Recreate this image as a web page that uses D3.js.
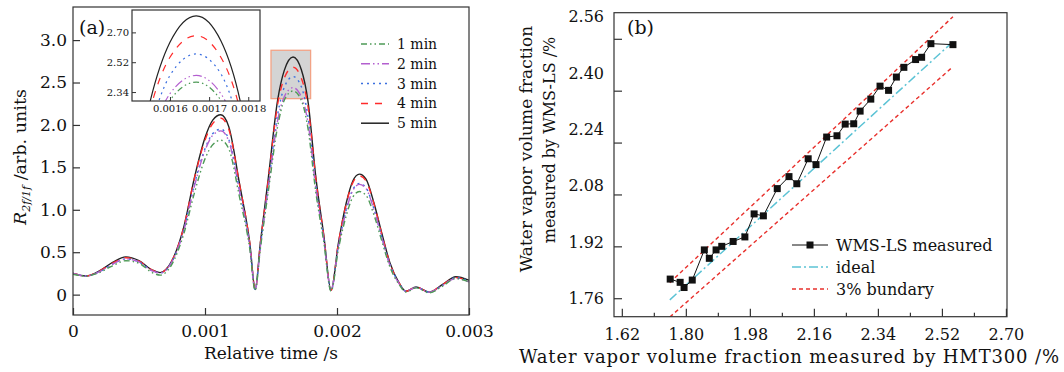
<!DOCTYPE html>
<html>
<head>
<meta charset="utf-8">
<script src="https://cdn.jsdelivr.net/npm/d3@7"></script>
<style>
body { margin: 0; background: #fff; }
text { font-family: "DejaVu Serif", serif; fill: #111; }
</style>
</head>
<body>
<div class="chart"></div>
<script>
// ---- panel (a) data: R2f/1f vs relative time ----
const timeS = [0, 0.0001, 0.0002, 0.0003, 0.0004, 0.0005, 0.0006, 0.00066, 0.00075, 0.00084,
    0.00092, 0.001, 0.00106, 0.00112, 0.00118, 0.00126, 0.00134, 0.00138, 0.00142, 0.00148,
    0.00155, 0.0016, 0.001667, 0.00173, 0.00178, 0.00184, 0.0019, 0.001955, 0.00201, 0.00207,
    0.00212, 0.00217, 0.00222, 0.00228, 0.00234, 0.0024, 0.00247, 0.002523, 0.0026, 0.0027,
    0.0028, 0.0029, 0.003]

const min1 = [0.24, 0.22, 0.26, 0.34, 0.40, 0.37, 0.26, 0.23, 0.36, 0.72, 1.20, 1.60, 1.77, 1.82, 1.72,
    1.16, 0.53, 0.05, 0.55, 1.22, 1.98, 2.29, 2.40, 2.29, 1.96, 1.20, 0.62, 0.04, 0.53, 0.93, 1.15,
    1.215, 1.17, 0.94, 0.63, 0.33, 0.12, 0.03, 0.08, 0.02, 0.10, 0.19, 0.15]
const min2 = [0.25, 0.22, 0.27, 0.36, 0.42, 0.385, 0.28, 0.255, 0.39, 0.76, 1.28, 1.70, 1.88, 1.93, 1.81,
    1.23, 0.56, 0.06, 0.57, 1.26, 2.05, 2.33, 2.44, 2.33, 2.03, 1.25, 0.65, 0.05, 0.56, 0.99, 1.23,
    1.30, 1.25, 1.00, 0.67, 0.35, 0.13, 0.04, 0.085, 0.03, 0.11, 0.19, 0.15]
const min3 = [0.25, 0.22, 0.27, 0.36, 0.42, 0.385, 0.28, 0.255, 0.39, 0.77, 1.30, 1.72, 1.90, 1.95, 1.83,
    1.24, 0.57, 0.06, 0.58, 1.29, 2.12, 2.44, 2.57, 2.45, 2.10, 1.28, 0.66, 0.05, 0.57, 1.00, 1.24,
    1.31, 1.26, 1.01, 0.68, 0.36, 0.14, 0.04, 0.085, 0.03, 0.11, 0.20, 0.16]
const min4 = [0.25, 0.22, 0.28, 0.37, 0.435, 0.395, 0.29, 0.26, 0.40, 0.80, 1.37, 1.82, 2.02, 2.08, 1.95,
    1.31, 0.60, 0.06, 0.61, 1.36, 2.24, 2.55, 2.68, 2.55, 2.22, 1.36, 0.69, 0.05, 0.60, 1.07, 1.32,
    1.40, 1.34, 1.07, 0.71, 0.37, 0.14, 0.04, 0.09, 0.03, 0.12, 0.20, 0.16]
const min5 = [0.25, 0.22, 0.28, 0.38, 0.445, 0.40, 0.29, 0.26, 0.40, 0.80, 1.38, 1.85, 2.06, 2.12, 1.98,
    1.32, 0.60, 0.06, 0.62, 1.38, 2.29, 2.64, 2.80, 2.65, 2.28, 1.38, 0.70, 0.05, 0.60, 1.08, 1.34,
    1.42, 1.36, 1.08, 0.72, 0.38, 0.14, 0.04, 0.09, 0.03, 0.12, 0.21, 0.17]

const seriesNames = ['1 min', '2 min', '3 min', '4 min', '5 min']
const seriesValues = [min1, min2, min3, min4, min5]

const xTicksA = [0, 0.001, 0.002, 0.003]
const xLabelsA = ['0', '0.001', '0.002', '0.003']
const yTicksA = [0, 0.5, 1.0, 1.5, 2.0, 2.5, 3.0]
const yLabelsA = ['0', '0.5', '1.0', '1.5', '2.0', '2.5', '3.0']

// zoomed region (grey box) and inset ticks
const zoomTime = [0.0015, 0.0018]
const zoomR = [2.31, 2.88]
const insetXTicks = [0.0016, 0.0017, 0.0018]
const insetXLabels = ['0.0016', '0.0017', '0.0018']
const insetYTicks = [2.34, 2.52, 2.70]
const insetYLabels = ['2.34', '2.52', '2.70']

// ---- panel (b) data: WMS-LS vs HMT300 ----
const hmt300 = [1.756, 1.784, 1.795, 1.818, 1.852, 1.866, 1.885, 1.901, 1.933, 1.966, 1.992, 2.018,
    2.057, 2.090, 2.112, 2.144, 2.166, 2.196, 2.225, 2.248, 2.272, 2.290, 2.320, 2.346, 2.370,
    2.392, 2.413, 2.446, 2.463, 2.489, 2.551]
const wmsls = [1.819, 1.809, 1.793, 1.816, 1.909, 1.883, 1.909, 1.920, 1.935, 1.949, 2.020, 2.014,
    2.098, 2.135, 2.113, 2.190, 2.172, 2.257, 2.261, 2.297, 2.298, 2.337, 2.374, 2.414, 2.401,
    2.442, 2.472, 2.496, 2.503, 2.545, 2.542]
const idealLine = [[1.755, 1.755], [2.551, 2.551]]
const upperBound = [[1.755, 1.808], [2.551, 2.628]]
const lowerBound = [[1.755, 1.702], [2.551, 2.474]]

const xTicksB = [1.62, 1.80, 1.98, 2.16, 2.34, 2.52, 2.70]
const xMinorB = [1.71, 1.89, 2.07, 2.25, 2.43, 2.61]
const yTicksB = [1.76, 1.92, 2.08, 2.24, 2.40, 2.56]
const legendB = ['WMS-LS measured', 'ideal', '3% bundary']

const lineStyles = [
    {color: '#4e9a57', dash: '6,3,1.5,3,1.5,3'},
    {color: '#b35fcf', dash: '9,3,1.5,3,1.5,3'},
    {color: '#3b6fe0', dash: '2,4'},
    {color: '#ff2b2b', dash: '7,7'},
    {color: '#222222', dash: null}
]

const svg = d3.select('.chart').append('svg')
    .attr('width', 1064)
    .attr('height', 372)

svg.append('rect').attr('width', 1064).attr('height', 372).attr('fill', '#fff')

function frame(g, x0, x1, y0, y1) {
    g.append('rect')
        .attr('x', x0).attr('y', y1)
        .attr('width', x1 - x0).attr('height', y0 - y1)
        .attr('fill', 'none')
        .attr('stroke', '#333')
        .attr('stroke-width', 1.2)
}

function SignalChart(svg) {
    const x = d3.scaleLinear().domain([0, 0.003]).range([73, 469])
    const y = d3.scaleLinear().domain([-0.24, 3.39]).range([315, 7])

    svg.append('clipPath').attr('id', 'clip-a')
        .append('rect').attr('x', 73).attr('y', 7).attr('width', 396).attr('height', 308)

    // grey box showing the zoomed part
    svg.append('rect')
        .attr('x', x(zoomTime[0]))
        .attr('y', y(zoomR[1]))
        .attr('width', x(zoomTime[1]) - x(zoomTime[0]))
        .attr('height', y(zoomR[0]) - y(zoomR[1]))
        .attr('fill', '#d4d4d4')
        .attr('stroke', '#f2a386')
        .attr('stroke-width', 1.3)

    const line = d3.line()
        .x((d, i) => x(timeS[i]))
        .y(d => y(d))
        .curve(d3.curveMonotoneX)

    const lines = svg.append('g').attr('clip-path', 'url(#clip-a)')
    // black first, dashed ones on top
    for (let k = 4; k >= 0; k--) {
        lines.append('path')
            .datum(seriesValues[k])
            .attr('d', line)
            .attr('fill', 'none')
            .attr('stroke', lineStyles[k].color)
            .attr('stroke-width', 1.4)
            .attr('stroke-dasharray', lineStyles[k].dash)
    }

    const xAxis = d3.axisBottom(x).tickValues(xTicksA)
        .tickFormat((d, i) => xLabelsA[i]).tickSize(-7).tickPadding(10)
    const yAxis = d3.axisLeft(y).tickValues(yTicksA)
        .tickFormat((d, i) => yLabelsA[i]).tickSize(-7).tickPadding(6)

    const gx = svg.append('g').attr('transform', 'translate(0,315)').call(xAxis)
    const gy = svg.append('g').attr('transform', 'translate(73,0)').call(yAxis)
    for (const g of [gx, gy]) {
        g.select('.domain').remove()
        g.selectAll('.tick line').attr('stroke', '#333').attr('stroke-width', 1.2)
        g.selectAll('text').style('font-family', '"DejaVu Serif", serif').style('font-size', '17px').attr('fill', '#111')
    }
    frame(svg, 73, 469, 315, 7)

    // inset
    const xi = d3.scaleLinear().domain([0.001503, 0.00183]).range([132, 260])
    const yi = d3.scaleLinear().domain([2.286, 2.835]).range([101, 10])
    svg.append('rect').attr('x', 132).attr('y', 10).attr('width', 128).attr('height', 91).attr('fill', '#fff')
    svg.append('clipPath').attr('id', 'clip-inset')
        .append('rect').attr('x', 132).attr('y', 10).attr('width', 128).attr('height', 91)
    const lineInset = d3.line()
        .x((d, i) => xi(timeS[i]))
        .y(d => yi(d))
        .curve(d3.curveMonotoneX)
    const il = svg.append('g').attr('clip-path', 'url(#clip-inset)')
    for (let k = 4; k >= 0; k--) {
        il.append('path')
            .datum(seriesValues[k])
            .attr('d', lineInset)
            .attr('fill', 'none')
            .attr('stroke', lineStyles[k].color)
            .attr('stroke-width', 1.2)
            .attr('stroke-dasharray', lineStyles[k].dash)
    }
    const ix = svg.append('g').attr('transform', 'translate(0,101)')
        .call(d3.axisBottom(xi).tickValues(insetXTicks).tickFormat((d, i) => insetXLabels[i]).tickSize(-4).tickPadding(4))
    const iy = svg.append('g').attr('transform', 'translate(132,0)')
        .call(d3.axisLeft(yi).tickValues(insetYTicks).tickFormat((d, i) => insetYLabels[i]).tickSize(-4).tickPadding(3))
    for (const g of [ix, iy]) {
        g.select('.domain').remove()
        g.selectAll('.tick line').attr('stroke', '#333')
        g.selectAll('text').style('font-family', '"DejaVu Serif", serif').style('font-size', '10px').attr('fill', '#111')
    }
    frame(svg, 132, 260, 101, 10)

    // legend
    const leg = svg.append('g')
    seriesNames.forEach((name, k) => {
        const yy = 44 + k * 19.8
        leg.append('line')
            .attr('x1', 361).attr('x2', 389).attr('y1', yy).attr('y2', yy)
            .attr('stroke', lineStyles[k].color)
            .attr('stroke-width', 1.5)
            .attr('stroke-dasharray', lineStyles[k].dash)
        leg.append('text').attr('x', 397).attr('y', yy + 5)
            .style('font-size', '14px').text(name)
    })

    svg.append('text').attr('x', 79).attr('y', 34).style('font-size', '19px').text('(a)')
    svg.append('text').attr('x', 271).attr('y', 359).attr('text-anchor', 'middle')
        .style('font-size', '17px').text('Relative time /s')

    const yt = svg.append('text')
        .attr('transform', 'translate(26,157) rotate(-90)')
        .attr('text-anchor', 'middle')
        .style('font-size', '17.5px')
    yt.append('tspan').style('font-style', 'italic').text('R')
    yt.append('tspan').style('font-style', 'italic').style('font-size', '11px').attr('dy', 4).text('2f/1f')
    yt.append('tspan').attr('dy', -4).text(' /arb. units')
}

function ScatterChart(svg) {
    const x = d3.scaleLinear().domain([1.598, 2.703]).range([614, 1007])
    const y = d3.scaleLinear().domain([1.703, 2.6405]).range([316.7, 12.7])

    svg.append('clipPath').attr('id', 'clip-b')
        .append('rect').attr('x', 614).attr('y', 12.7).attr('width', 393).attr('height', 304)

    const line = d3.line().x(d => x(d[0])).y(d => y(d[1]))
    const g = svg.append('g').attr('clip-path', 'url(#clip-b)')

    g.append('path').datum(upperBound).attr('d', line)
        .attr('fill', 'none').attr('stroke', '#e8302c').attr('stroke-width', 1.4).attr('stroke-dasharray', '4,3')
    g.append('path').datum(lowerBound).attr('d', line)
        .attr('fill', 'none').attr('stroke', '#e8302c').attr('stroke-width', 1.4).attr('stroke-dasharray', '4,3')
    g.append('path').datum(idealLine).attr('d', line)
        .attr('fill', 'none').attr('stroke', '#5cc3d5').attr('stroke-width', 1.5).attr('stroke-dasharray', '9,3,2,3')

    const pts = hmt300.map((v, i) => [v, wmsls[i]])
    g.append('path').datum(pts).attr('d', line)
        .attr('fill', 'none').attr('stroke', '#111').attr('stroke-width', 1)
    g.selectAll('.pt').data(pts).join('rect')
        .attr('class', 'pt')
        .attr('x', d => x(d[0]) - 3.5)
        .attr('y', d => y(d[1]) - 3.5)
        .attr('width', 7).attr('height', 7)
        .attr('fill', '#111')

    const gx = svg.append('g').attr('transform', 'translate(0,316.7)')
        .call(d3.axisBottom(x).tickValues(xTicksB).tickFormat(d3.format('.2f')).tickSize(-8).tickPadding(12))
    const gxm = svg.append('g').attr('transform', 'translate(0,316.7)')
        .call(d3.axisBottom(x).tickValues(xMinorB).tickFormat('').tickSize(-4))
    const gy = svg.append('g').attr('transform', 'translate(614,0)')
        .call(d3.axisLeft(y).tickValues(yTicksB).tickFormat('').tickSize(-8))
    for (const a of [gx, gxm, gy]) {
        a.select('.domain').remove()
        a.selectAll('.tick line').attr('stroke', '#333').attr('stroke-width', 1.2)
        a.selectAll('text').style('font-family', '"DejaVu Serif", serif').style('font-size', '16px').attr('fill', '#111')
    }
    // y labels are spaced a little wider than the ticks in the original
    const labelStretch = 1.085
    svg.append('g').selectAll('text').data(yTicksB).join('text')
        .attr('x', 604)
        .attr('y', d => y(1.76) + (y(d) - y(1.76)) * labelStretch)
        .attr('dy', '0.35em')
        .attr('text-anchor', 'end')
        .style('font-size', '16px')
        .text(d => d3.format('.2f')(d))

    frame(svg, 614, 1007, 316.7, 12.7)

    // legend
    const lx0 = 792, lx1 = 828, tx = 836
    const rows = [245, 267, 289]
    svg.append('line').attr('x1', lx0).attr('x2', lx1).attr('y1', rows[0]).attr('y2', rows[0])
        .attr('stroke', '#111').attr('stroke-width', 1)
    svg.append('rect').attr('x', (lx0 + lx1) / 2 - 3.5).attr('y', rows[0] - 3.5)
        .attr('width', 7).attr('height', 7).attr('fill', '#111')
    svg.append('line').attr('x1', lx0).attr('x2', lx1).attr('y1', rows[1]).attr('y2', rows[1])
        .attr('stroke', '#5cc3d5').attr('stroke-width', 1.5).attr('stroke-dasharray', '9,3,2,3')
    svg.append('line').attr('x1', lx0).attr('x2', lx1).attr('y1', rows[2]).attr('y2', rows[2])
        .attr('stroke', '#e8302c').attr('stroke-width', 1.4).attr('stroke-dasharray', '4,3')
    legendB.forEach((t, i) => {
        svg.append('text').attr('x', tx).attr('y', rows[i] + 6).style('font-size', '16px').text(t)
    })

    svg.append('text').attr('x', 627).attr('y', 34).style('font-size', '19px').text('(b)')
    svg.append('text').attr('x', 789).attr('y', 363).attr('text-anchor', 'middle')
        .style('font-size', '18px')
        .attr('textLength', 540).attr('lengthAdjust', 'spacing')
        .text('Water vapor volume fraction measured by HMT300 /%')
    svg.append('text').attr('transform', 'translate(532,149) rotate(-90)')
        .attr('text-anchor', 'middle').style('font-size', '17px').text('Water vapor volume fraction')
    svg.append('text').attr('transform', 'translate(555,140) rotate(-90)')
        .attr('text-anchor', 'middle').style('font-size', '16px')
        .text('measured by WMS-LS /%')
}

SignalChart(svg)
ScatterChart(svg)
</script>
</body>
</html>
